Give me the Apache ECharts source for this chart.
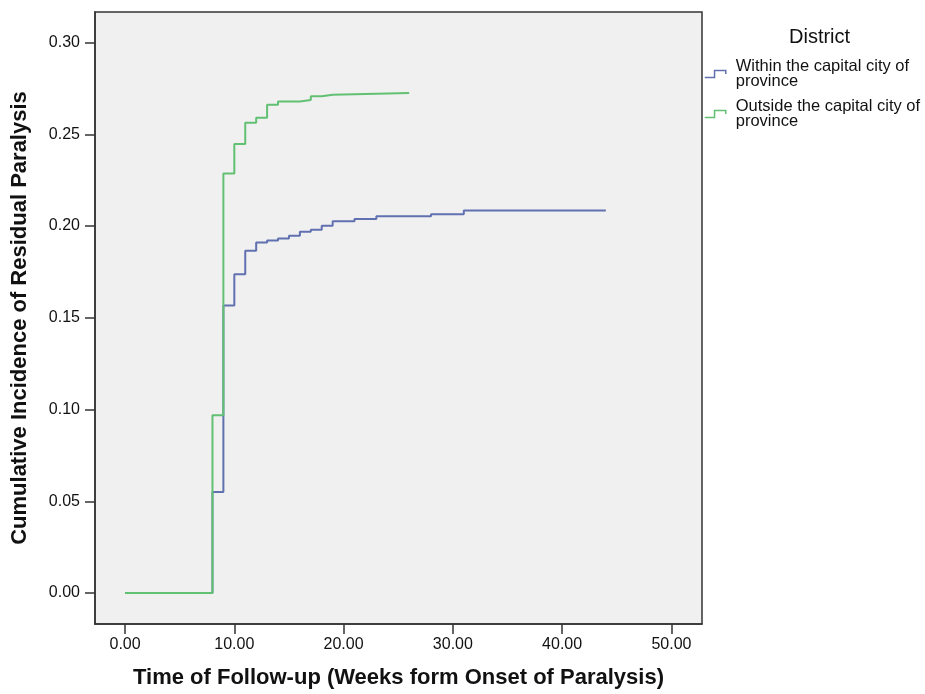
<!DOCTYPE html>
<html>
<head>
<meta charset="utf-8">
<script src="https://cdn.jsdelivr.net/npm/echarts@6/dist/echarts.min.js"></script>
<style>
  html, body { margin: 0; padding: 0; background: #fff; }
  #chartContainer { width: 925px; height: 694px; }
</style>
</head>
<body>
<div id="chartContainer"></div>
<script>
// 时间点 (weeks) 和累计发生率
var withinTimes = [0, 8, 9, 10, 11, 12, 13, 14, 15, 16, 17, 18, 19, 21, 23, 28, 31, 44];
var withinValues = [0, 0.055, 0.1567, 0.1737, 0.1866, 0.1911, 0.1922, 0.1933, 0.1947, 0.1969, 0.198, 0.2002, 0.2027, 0.2038, 0.2053, 0.2064, 0.2085, 0.2085];
var outsideTimes = [0, 8, 9, 10, 11, 12, 13, 14, 16, 17, 18, 19, 26];
var outsideValues = [0, 0.0969, 0.2286, 0.2447, 0.2563, 0.2591, 0.2661, 0.2679, 0.2687, 0.2708, 0.2716, 0.2725, 0.2725];
var xTicks = [0, 10, 20, 30, 40, 50];
var yTicks = [0, 0.05, 0.10, 0.15, 0.20, 0.25, 0.30];
var seriesNames = ['Within the capital city of province', 'Outside the capital city of province'];
var colors = ['#6070b0', '#62c073'];

function pairs(xs, ys) {
    var out = [];
    for (var i = 0; i < xs.length; i++) {
        out.push([xs[i], ys[i]]);
    }
    return out;
}

var chart = echarts.init(document.getElementById('chartContainer'));
var font = 'Arial, "Liberation Sans", sans-serif';
var stepIcon = 'path://M0,10L14,10L14,0L30,0L30,5';

var option = {
    backgroundColor: '#ffffff',
    animation: false,
    title: {
        text: 'District',
        left: 784,
        top: 22,
        textStyle: {fontFamily: font, fontSize: 20, fontWeight: 'normal', color: '#111'}
    },
    legend: {
        orient: 'vertical',
        left: 699,
        top: 53,
        itemWidth: 31,
        itemHeight: 7,
        itemGap: 8,
        data: [
            {name: seriesNames[0], icon: stepIcon, itemStyle: {color: 'transparent', borderColor: colors[0], borderWidth: 1.5}},
            {name: seriesNames[1], icon: stepIcon, itemStyle: {color: 'transparent', borderColor: colors[1], borderWidth: 1.5}}
        ],
        formatter: function (name) {
            return name.replace(' province', '\nprovince');
        },
        textStyle: {fontFamily: font, fontSize: 16.5, color: '#111', lineHeight: 15}
    },
    grid: {
        left: 95,
        right: 223,
        top: 12,
        bottom: 69,
        show: true,
        backgroundColor: '#f0f0f0',
        borderColor: '#333',
        borderWidth: 1.5
    },
    xAxis: {
        type: 'value',
        min: -2.75,
        max: 52.8,
        name: 'Time of Follow-up (Weeks form Onset of Paralysis)',
        nameLocation: 'middle',
        nameGap: 43,
        nameTextStyle: {fontFamily: font, fontSize: 22, fontWeight: 'bold', color: '#111'},
        axisLine: {show: true, onZero: false, lineStyle: {color: '#333', width: 1.5}},
        axisTick: {show: true, length: 10, customValues: xTicks, lineStyle: {color: '#333', width: 1.5}},
        axisLabel: {
            customValues: xTicks,
            margin: 13,
            fontFamily: font,
            fontSize: 16,
            color: '#111',
            formatter: function (v) { return v.toFixed(2); }
        },
        splitLine: {show: false}
    },
    yAxis: {
        type: 'value',
        min: -0.0169,
        max: 0.3167,
        name: 'Cumulative Incidence of Residual Paralysis',
        nameLocation: 'middle',
        nameGap: 64,
        nameTextStyle: {fontFamily: font, fontSize: 22, fontWeight: 'bold', color: '#111'},
        axisLine: {show: true, onZero: false, lineStyle: {color: '#333', width: 1.5}},
        axisTick: {show: true, length: 10, customValues: yTicks, lineStyle: {color: '#333', width: 1.5}},
        axisLabel: {
            customValues: yTicks,
            margin: 15,
            fontFamily: font,
            fontSize: 16,
            color: '#111',
            formatter: function (v) { return v.toFixed(2); }
        },
        splitLine: {show: false}
    },
    series: [
        {
            name: seriesNames[0],
            type: 'line',
            step: 'end',
            symbol: 'none',
            color: colors[0],
            lineStyle: {width: 2, color: colors[0]},
            data: pairs(withinTimes, withinValues)
        },
        {
            name: seriesNames[1],
            type: 'line',
            step: 'end',
            symbol: 'none',
            color: colors[1],
            lineStyle: {width: 2, color: colors[1]},
            data: pairs(outsideTimes, outsideValues)
        }
    ]
};
chart.setOption(option);
</script>
</body>
</html>
